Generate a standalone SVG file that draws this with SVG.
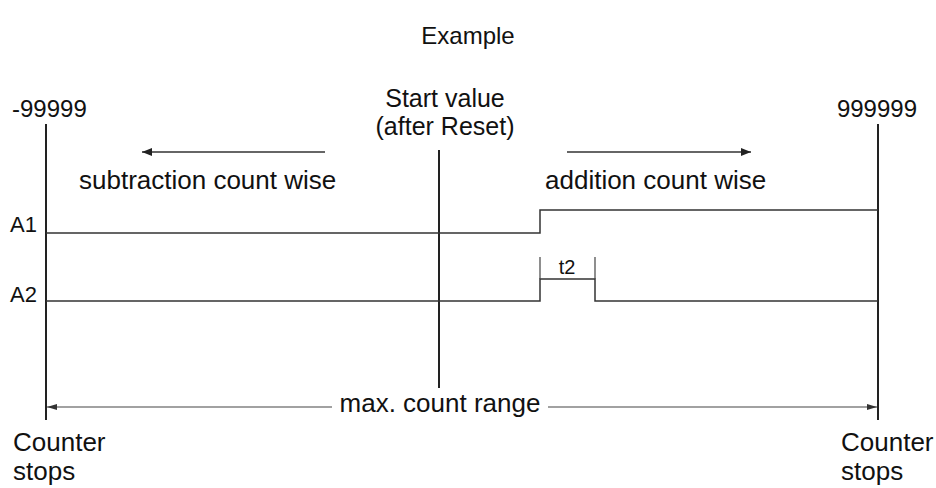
<svg xmlns="http://www.w3.org/2000/svg" width="936" height="488" viewBox="0 0 936 488">
<style>
text{font-family:"Liberation Sans",Arial,sans-serif;fill:#111}
.ln{stroke:#333;stroke-width:1.5;fill:none}
.bar{stroke:#222;stroke-width:2;fill:none}
.thin{stroke:#444;stroke-width:1.2;fill:none}
</style>
<defs>
<marker id="ah" viewBox="0 0 10 8" refX="10" refY="4" markerWidth="10" markerHeight="8" markerUnits="userSpaceOnUse" orient="auto">
<path d="M0,0 L10,4 L0,8 Z" fill="#222"/>
</marker>
<marker id="as" viewBox="0 0 10 6" refX="10" refY="3" markerWidth="10" markerHeight="6" markerUnits="userSpaceOnUse" orient="auto">
<path d="M0,0 L10,3 L0,6 Z" fill="#333"/>
</marker>
</defs>
<text x="468" y="44" font-size="24" text-anchor="middle">Example</text>
<g id="left-limit">
<text x="12" y="117" font-size="24">-99999</text>
<line class="bar" x1="46" y1="124" x2="46" y2="420"/>
<text x="13" y="451" font-size="26">Counter</text>
<text x="13" y="480" font-size="26">stops</text>
</g>
<g id="right-limit">
<text x="917" y="117" font-size="24" text-anchor="end">999999</text>
<line class="bar" x1="878" y1="124" x2="878" y2="420"/>
<text x="841" y="451" font-size="26">Counter</text>
<text x="841" y="480" font-size="26">stops</text>
</g>
<g id="start">
<text x="445" y="107" font-size="25" text-anchor="middle">Start value</text>
<text x="445" y="135" font-size="25" text-anchor="middle">(after Reset)</text>
<line class="bar" x1="439" y1="150" x2="439" y2="388"/>
</g>
<g id="directions">
<text x="79" y="189" font-size="26">subtraction count wise</text>
<text x="545" y="189" font-size="26">addition count wise</text>
</g>
<g id="A1">
<text x="10" y="232" font-size="22">A1</text>
<polyline class="ln" points="46,233 540,233 540,210 878,210"/>
</g>
<g id="A2">
<text x="10" y="302" font-size="22">A2</text>
<polyline class="ln" points="46,301 540,301 540,279 595,279 595,301 878,301"/>
<line class="thin" x1="540" y1="257" x2="540" y2="279"/>
<line class="thin" x1="595" y1="257" x2="595" y2="279"/>
<text x="567" y="274" font-size="20" text-anchor="middle">t2</text>
</g>
<g id="range">
<text x="440" y="412" font-size="26" text-anchor="middle">max. count range</text>
</g>
<g id="connectors">
<line class="ln" x1="325" y1="152" x2="142" y2="152" marker-end="url(#ah)"/>
<line class="ln" x1="567" y1="152" x2="751" y2="152" marker-end="url(#ah)"/>
<line class="thin" x1="332" y1="407" x2="47" y2="407" marker-end="url(#as)"/>
<line class="thin" x1="548" y1="407" x2="877" y2="407" marker-end="url(#as)"/>
</g>
</svg>
